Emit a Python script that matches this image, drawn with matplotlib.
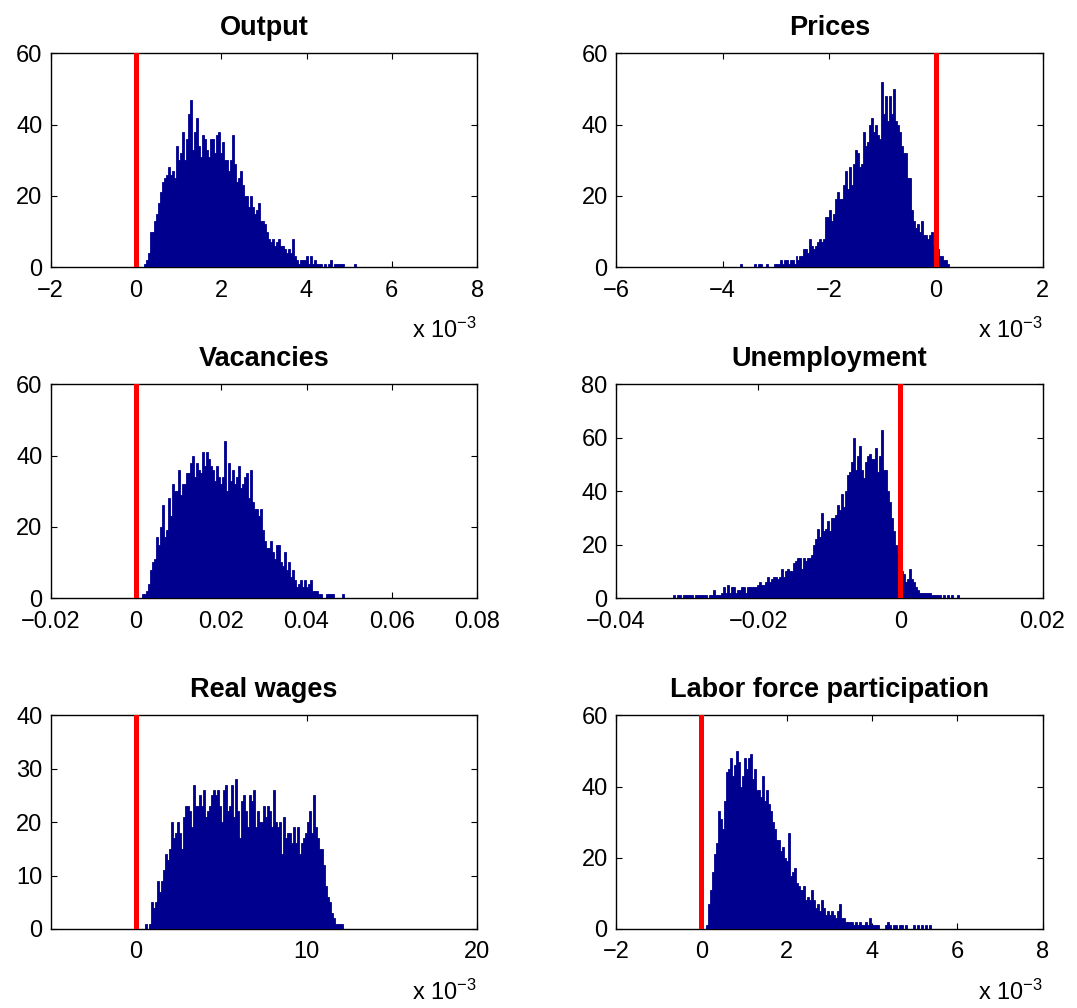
import numpy as np
import matplotlib
matplotlib.use('Agg')
import matplotlib.pyplot as plt
from matplotlib.ticker import FuncFormatter

plt.rcParams['font.family'] = ['Liberation Sans', 'DejaVu Sans']
plt.rcParams['mathtext.default'] = 'regular'

# ---------------- data (bin counts) ----------------
output_range = (0.04e-3, 6.0e-3)
output_counts = [0, 0, 0, 1, 2, 4, 10, 10, 13, 15,
                 18, 21, 24, 25, 26, 28, 26, 27, 25, 34,
                 30, 32, 38, 30, 36, 43, 47, 33, 38, 42,
                 34, 31, 37, 36, 33, 31, 36, 36, 32, 37,
                 38, 32, 35, 30, 30, 27, 30, 37, 29, 24,
                 25, 27, 23, 20, 20, 17, 20, 17, 15, 16,
                 18, 13, 13, 12, 10, 8, 7, 8, 6, 7,
                 8, 6, 6, 5, 4, 5, 4, 8, 3, 2,
                 1, 2, 2, 2, 3, 1, 3, 1, 2, 1,
                 1, 1, 0, 1, 0, 1, 2, 0, 1, 1,
                 1, 1, 1, 0, 0, 0, 0, 0, 1, 0,
                 0, 0, 0, 0, 0, 0, 0, 0, 0, 0,
                 0, 0, 0, 0, 0, 0, 0]

prices_range = (-4.095e-3, 0.476e-3)
prices_counts = [0, 0, 0, 0, 0, 0, 0, 0, 0, 0,
                 0, 1, 0, 0, 0, 0, 0, 0, 1, 0,
                 1, 1, 0, 0, 1, 0, 0, 0, 1, 1,
                 1, 2, 1, 2, 2, 1, 2, 2, 1, 3,
                 2, 3, 3, 5, 5, 4, 8, 6, 5, 6,
                 7, 8, 7, 8, 14, 14, 16, 13, 15, 19,
                 21, 19, 19, 23, 27, 22, 28, 23, 29, 33,
                 32, 28, 29, 38, 34, 35, 40, 42, 38, 40,
                 37, 36, 52, 43, 48, 41, 48, 43, 50, 41,
                 40, 38, 34, 32, 32, 25, 25, 16, 13, 11,
                 12, 10, 13, 9, 9, 8, 9, 10, 6, 5,
                 5, 3, 3, 2, 2, 1, 0, 0, 0, 0,
                 0, 0]

vacancies_range = (0.000414, 0.0703)
vacancies_counts = [0, 0, 1, 1, 2, 4, 8, 10, 11, 17,
                    15, 20, 26, 17, 19, 28, 23, 32, 30, 30,
                    36, 29, 32, 32, 35, 35, 38, 40, 34, 38,
                    36, 35, 41, 37, 41, 39, 37, 36, 33, 37,
                    34, 32, 34, 44, 30, 38, 33, 36, 32, 34,
                    37, 31, 32, 34, 35, 28, 36, 27, 25, 25,
                    23, 25, 19, 16, 14, 14, 16, 13, 11, 15,
                    15, 10, 9, 13, 8, 10, 6, 8, 5, 3,
                    4, 5, 3, 5, 3, 4, 5, 2, 2, 2,
                    1, 1, 0, 0, 1, 1, 1, 1, 0, 0,
                    0, 0, 1] + [0] * 46

unemp_range = (-0.03503, 0.00993)
unemp_counts = [0] * 11 + [1, 0, 1, 1, 0, 1, 1, 1, 1,
                1, 0, 1, 1, 1, 1, 1, 1, 0, 1,
                1, 3, 1, 1, 1, 2, 4, 2, 5, 2,
                4, 4, 2, 3, 3, 4, 4, 2, 4, 4,
                4, 4, 4, 5, 6, 5, 5, 6, 8, 6,
                7, 8, 8, 7, 8, 11, 8, 10, 11, 10,
                10, 13, 14, 15, 15, 11, 15, 14, 15, 15,
                16, 20, 22, 26, 23, 32, 25, 26, 29, 25,
                30, 30, 31, 35, 33, 39, 34, 40, 46, 47,
                51, 60, 48, 53, 57, 48, 45, 51, 53, 54,
                52, 52, 56, 47, 53, 63, 48, 48, 40, 36,
                30, 25, 20, 17, 13, 10, 9, 6, 7, 11,
                7, 6, 4, 3, 2, 2, 2, 2, 2, 2,
                1, 1, 1, 1, 1, 0, 1, 0, 1, 0,
                1, 0, 0, 1, 0, 0, 0, 0, 0, 0]

wages_range = (0.201e-3, 14.85e-3)
wages_counts = [0, 0, 0, 1, 0, 1, 5, 4, 5, 9,
                7, 9, 11, 14, 13, 15, 20, 17, 18, 20,
                18, 15, 21, 23, 23, 22, 19, 27, 23, 23,
                25, 23, 26, 21, 22, 23, 25, 26, 25, 26,
                23, 20, 26, 27, 22, 23, 27, 21, 28, 22,
                17, 24, 25, 22, 19, 25, 24, 26, 19, 22,
                20, 20, 23, 21, 23, 22, 19, 26, 20, 19,
                20, 14, 21, 17, 18, 18, 16, 19, 16, 19,
                14, 16, 17, 18, 20, 22, 18, 25, 19, 17,
                15, 15, 12, 8, 6, 5, 3, 2, 1, 1,
                1, 1] + [0] * 23

lfp_range = (0.1e-3, 6.002e-3)
lfp_counts = [1, 7, 11, 16, 21, 24, 33, 31, 28, 36,
              44, 45, 48, 43, 46, 50, 47, 40, 43, 48,
              45, 48, 49, 42, 45, 39, 39, 37, 43, 36,
              39, 35, 33, 30, 28, 25, 25, 22, 23, 20,
              19, 27, 15, 16, 17, 13, 12, 11, 11, 12,
              8, 9, 8, 11, 8, 6, 7, 5, 8, 6,
              4, 5, 4, 5, 4, 3, 5, 7, 3, 3,
              2, 2, 2, 2, 1, 2, 1, 2, 1, 1,
              2, 1, 3, 1, 1, 1, 1, 0, 0, 0,
              1, 2, 1, 0, 1, 1, 0, 1, 1, 0,
              1, 0, 0, 0, 1, 0, 1, 0, 1, 0,
              1, 0, 1] + [0] * 13

titles = ['Output', 'Prices', 'Vacancies', 'Unemployment',
          'Real wages', 'Labor force participation']
xlims = [(-2e-3, 8e-3), (-6e-3, 2e-3), (-0.02, 0.08), (-0.04, 0.02),
         (-5e-3, 20e-3), (-2e-3, 8e-3)]
xticks = [[-2e-3, 0, 2e-3, 4e-3, 6e-3, 8e-3],
          [-6e-3, -4e-3, -2e-3, 0, 2e-3],
          [-0.02, 0, 0.02, 0.04, 0.06, 0.08],
          [-0.04, -0.02, 0, 0.02],
          [0, 10e-3, 20e-3],
          [-2e-3, 0, 2e-3, 4e-3, 6e-3, 8e-3]]
ymax = [60, 60, 60, 80, 40, 60]
yticks = [[0, 20, 40, 60], [0, 20, 40, 60], [0, 20, 40, 60],
          [0, 20, 40, 60, 80], [0, 10, 20, 30, 40], [0, 20, 40, 60]]
scaled = [True, True, False, False, True, True]   # axes with the x 10^-3 label

ranges = [output_range, prices_range, vacancies_range, unemp_range, wages_range, lfp_range]
counts = [output_counts, prices_counts, vacancies_counts, unemp_counts, wages_counts, lfp_counts]

# ---------------- figure ----------------
fig = plt.figure(figsize=(10.77, 10.08), dpi=100)
bar_col = (0, 0, 0.56)

col_x = [0.047, 0.572]
row_y = [0.735, 0.4067, 0.0784]
w, h = 0.396, 0.212


def fmt_plain(v, pos):
    s = '%g' % round(v, 8)
    return s.replace('-', '\u2212')


def fmt_milli(v, pos):
    s = '%g' % round(v * 1e3, 6)
    return s.replace('-', '\u2212')


for k in range(6):
    ax = fig.add_axes([col_x[k % 2], row_y[k // 2], w, h])
    lo, hi = ranges[k]
    c = np.array(counts[k], dtype=float)
    edges = np.linspace(lo, hi, len(c) + 1)
    centers = 0.5 * (edges[:-1] + edges[1:])
    # zorder above the spines so the empty bins show as a blue baseline
    ax.hist(centers, bins=edges, weights=c, color=bar_col,
            edgecolor=bar_col, linewidth=0.6, zorder=3)
    ax.axvline(0, color='#ff0000', linewidth=3.6, zorder=5)

    ax.set_xlim(xlims[k])
    ax.set_ylim(0, ymax[k])
    ax.set_xticks(xticks[k])
    ax.set_yticks(yticks[k])
    if scaled[k]:
        ax.xaxis.set_major_formatter(FuncFormatter(fmt_milli))
        ax.text(1.0, -0.33, r'x 10$^{\mathregular{-3}}$', transform=ax.transAxes,
                ha='right', va='baseline', fontsize=17)
    else:
        ax.xaxis.set_major_formatter(FuncFormatter(fmt_plain))

    ax.tick_params(direction='in', top=True, right=True, length=4, width=0.8,
                   labelsize=17)
    ax.tick_params(axis='x', pad=9)
    ax.tick_params(axis='y', pad=6)
    for sp in ax.spines.values():
        sp.set_linewidth(1.0)
    ax.set_title(titles[k], fontsize=19.5, fontweight='bold', pad=13)

fig.savefig('out.png', dpi=100)
